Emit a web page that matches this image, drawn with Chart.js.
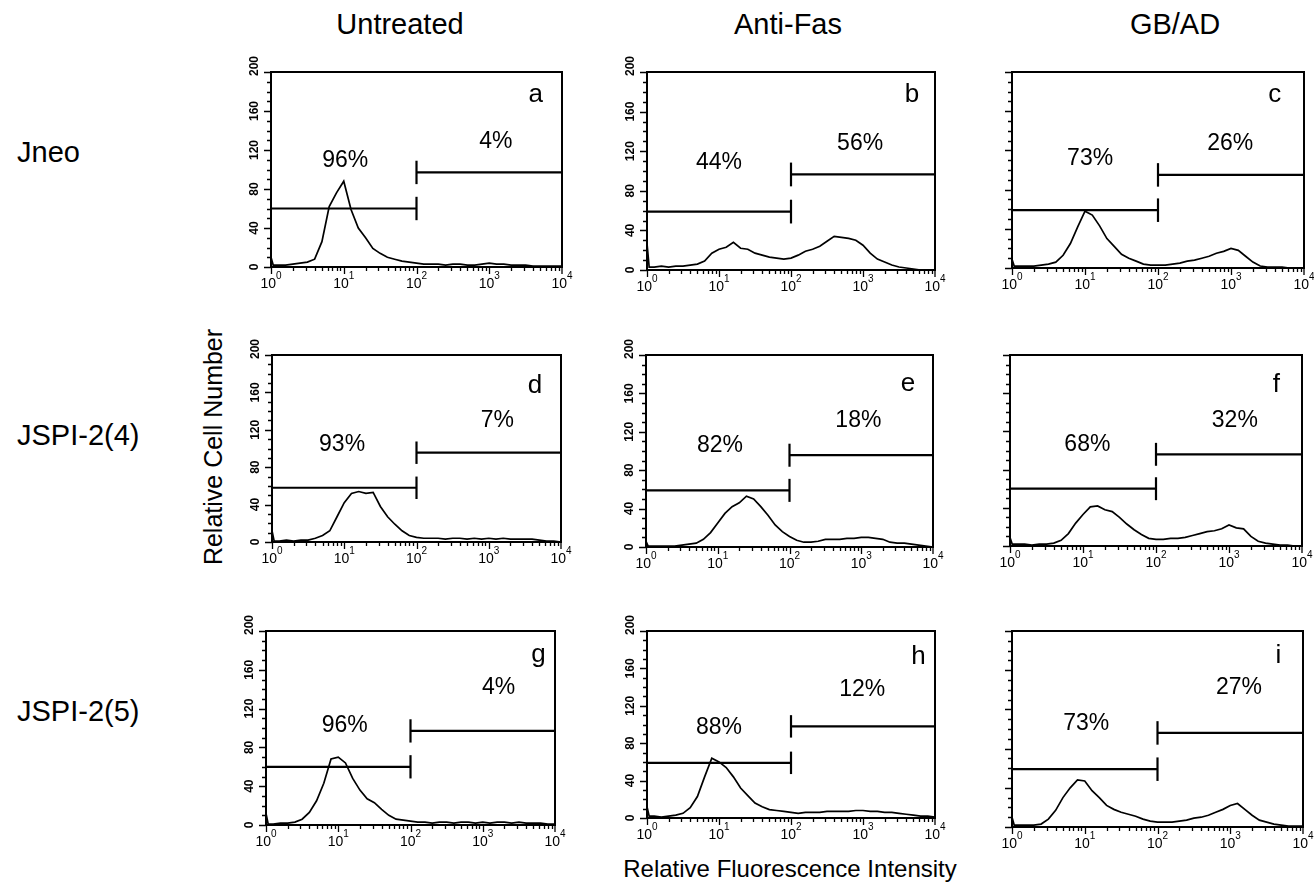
<!DOCTYPE html>
<html>
<head>
<meta charset="utf-8">
<title>Flow cytometry histograms</title>
<script src="https://cdn.jsdelivr.net/npm/chart.js@4.4.1/dist/chart.umd.min.js"></script>
<style>
    body { margin: 0; background: #fff; width: 1314px; height: 883px; position: relative; overflow: hidden;
           font-family: "Liberation Sans", Arial, sans-serif; color: #000; }
    .lbl { position: absolute; white-space: nowrap; line-height: 1; }
    canvas { position: absolute; }
</style>
</head>
<body>

<div id="labels"></div>

<script>
// -------------------------------------------------------------
// DATA
// -------------------------------------------------------------

const columns = ['Untreated', 'Anti-Fas', 'GB/AD'];
const rows = ['Jneo', 'JSPI-2(4)', 'JSPI-2(5)'];
const panelLetters = ['a', 'b', 'c', 'd', 'e', 'f', 'g', 'h', 'i'];

// fluorescence bins, as log10 of intensity
const binExp = [0.0, 0.03, 0.1, 0.2, 0.3, 0.4, 0.5, 0.6, 0.7, 0.8, 0.9,
                1.0, 1.1, 1.2, 1.3, 1.4, 1.5, 1.6, 1.7, 1.8, 1.9,
                2.0, 2.1, 2.2, 2.3, 2.4, 2.5, 2.6, 2.7, 2.8, 2.9,
                3.0, 3.1, 3.2, 3.3, 3.4, 3.5, 3.6, 3.7, 3.8, 3.9, 4.0];

// relative cell number per bin, one array per panel
const countsA = [10,2,2,2,3,4,5,8,26,62,76, 88,59,40,30,19,14,10,8,6,5, 4,3,3,3,2,3,3,2,2,3, 4,3,3,2,2,2,1,1,1,1, 1];
const countsB = [27,3,3,4,3,4,4,5,6,9,17, 21,23,28,22,21,17,15,13,12,11, 12,15,19,21,24,29,34,33,32,30, 25,17,11,8,5,3,2,1,0,0, 0];
const countsC = [9,2,2,2,2,3,4,6,13,25,42, 58,54,43,30,22,14,10,7,4,3, 3,3,4,5,7,8,10,12,15,17, 20,18,12,6,2,1,1,1,0,0, 0];
const countsD = [12,1,1,2,1,2,2,4,7,12,27, 42,52,54,52,53,38,27,19,12,7, 5,4,4,4,3,4,4,3,4,3, 4,3,4,3,3,3,3,2,1,1, 0];
const countsE = [6,1,1,1,1,1,2,3,4,8,15, 25,35,42,46,53,50,42,33,23,16, 11,7,5,5,6,8,8,8,9,9, 10,10,9,8,5,4,4,3,2,1, 0];
const countsF = [9,2,2,2,1,2,2,3,6,13,24, 33,41,42,38,36,30,23,17,12,8, 7,7,8,8,9,11,13,15,16,18, 22,19,18,10,5,3,2,1,1,0, 0];
const countsG = [12,1,1,2,2,3,6,13,25,43,68, 70,64,48,36,27,23,16,10,6,5, 4,3,3,2,3,3,2,3,3,2, 3,2,3,3,2,3,2,2,2,1, 1];
const countsH = [12,2,2,1,2,3,5,11,23,44,64, 60,54,44,32,24,16,12,9,8,7, 6,5,6,6,6,7,7,7,7,8, 8,7,7,6,6,5,4,3,2,2, 1];
const countsI = [10,2,2,2,2,3,8,17,30,40,48, 47,37,30,22,18,15,13,11,8,6, 5,5,5,6,7,9,10,12,15,18, 22,24,18,12,7,5,3,2,1,1, 1];

// gate markers (cell-number height of each gate bar)
const leftGate = [60, 59, 59, 58, 59, 60, 60, 59, 59];
const rightGate = [97, 96.5, 95, 95.5, 95.6, 96, 97, 98, 96];
const gateSplit = 100;

// percentages inside each gate
const leftPct = ['96%', '44%', '73%', '93%', '82%', '68%', '96%', '88%', '73%'];
const rightPct = ['4%', '56%', '26%', '7%', '18%', '32%', '4%', '12%', '27%'];

// axis ticks
const yTicks = [0, 40, 80, 120, 160, 200];
const xTickExp = [0, 1, 2, 3, 4];

const allCounts = [countsA, countsB, countsC, countsD, countsE, countsF, countsG, countsH, countsI];

// -------------------------------------------------------------
// LAYOUT (pixel boxes of each plot area, label anchors in data units)
// -------------------------------------------------------------

const boxes = [
    [271, 72, 562, 267], [647, 72, 935, 270], [1012, 72, 1304, 268],
    [272, 355, 561, 542], [646, 355, 933, 547], [1010, 355, 1302, 546],
    [266, 631, 555, 825], [647, 631, 935, 818], [1012, 631, 1303, 827]
];
// [xExp, baseline value] for left %, right %, panel letter
const leftPctPos = [[1.02, 103], [1.0, 102.5], [1.07, 105], [0.97, 97.5], [1.03, 99], [1.06, 99.6], [1.09, 96], [1.0, 90], [1.02, 99]];
const rightPctPos = [[3.09, 122], [2.96, 121.7], [2.99, 120], [3.12, 122.5], [2.96, 124.5], [3.08, 124.8], [3.22, 135.5], [2.99, 130], [3.12, 136]];
const letterPos = [[3.64, 169], [3.68, 170], [3.6, 169.5], [3.64, 159], [3.65, 162], [3.65, 161], [3.77, 168], [3.77, 165], [3.66, 167]];

const PAD = { left: 40, top: 28, right: 14, bottom: 32 };
const GATE_TICK = 12;
const FONT = '"Liberation Sans", Arial, sans-serif';

// -------------------------------------------------------------
// PAGE LABELS
// -------------------------------------------------------------

const labelsEl = document.getElementById('labels');

function addLabel(text, x, baseline, size, align, rotate) {
    const d = document.createElement('div');
    d.className = 'lbl';
    d.textContent = text;
    d.style.fontSize = size + 'px';
    d.style.left = x + 'px';
    d.style.top = (baseline - size * 0.8465) + 'px';
    if (align === 'center') d.style.transform = 'translateX(-50%)';
    if (rotate) {
        d.style.top = baseline + 'px';
        d.style.transform = 'translate(-50%, -50%) rotate(-90deg)';
    }
    labelsEl.appendChild(d);
}

const colCenters = [400, 788, 1175];
columns.forEach((c, i) => addLabel(c, colCenters[i], 35, 29, 'center'));
const rowBaselines = [163, 446, 722];
rows.forEach((r, i) => addLabel(r, 17, rowBaselines[i], 29, 'left'));
addLabel('Relative Cell Number', 213, 447, 25, 'center', true);
addLabel('Relative Fluorescence Intensity', 790, 877, 24, 'center');

// -------------------------------------------------------------
// CHART DRAWING
// -------------------------------------------------------------

const axesPlugin = {
    id: 'facsAxes',
    afterDraw(chart, args, opts) {
        const { ctx, chartArea: ca, scales: { x, y } } = chart;
        const i = opts.index;
        ctx.save();
        ctx.strokeStyle = '#000';
        ctx.fillStyle = '#000';

        // frame
        ctx.lineWidth = 2;
        ctx.strokeRect(ca.left, ca.top, ca.right - ca.left, ca.bottom - ca.top);

        // y ticks (minor every 10)
        ctx.lineWidth = 1.3;
        ctx.beginPath();
        for (let v = 0; v <= 200; v += 10) {
            const py = Math.round(y.getPixelForValue(v)) + 0.5;
            const len = v % 40 === 0 ? 7 : 4;
            ctx.moveTo(ca.left - len, py);
            ctx.lineTo(ca.left, py);
        }
        // x ticks (minor 2..9 per decade)
        for (let d = 0; d < 4; d++) {
            for (let m = 1; m <= 9; m++) {
                const px = Math.round(x.getPixelForValue(m * Math.pow(10, d))) + 0.5;
                const len = m === 1 ? 7 : 4;
                ctx.moveTo(px, ca.bottom);
                ctx.lineTo(px, ca.bottom + len);
            }
        }
        const pEnd = x.getPixelForValue(10000);
        ctx.moveTo(pEnd, ca.bottom);
        ctx.lineTo(pEnd, ca.bottom + 7);
        ctx.stroke();

        // y tick labels, rotated (not in the right-hand column)
        if (i % 3 !== 2) {
            ctx.font = 'bold 12px ' + FONT;
            ctx.textAlign = 'center';
            ctx.textBaseline = 'middle';
            yTicks.forEach(v => {
                let py = y.getPixelForValue(v);
                if (v === 200) py -= 6;
                ctx.save();
                ctx.translate(ca.left - 16, py);
                ctx.rotate(-Math.PI / 2);
                ctx.fillText(String(v), 0, 0);
                ctx.restore();
            });
        }

        // x tick labels 10^n
        ctx.textAlign = 'left';
        ctx.textBaseline = 'alphabetic';
        xTickExp.forEach(e => {
            const px = x.getPixelForValue(Math.pow(10, e));
            ctx.font = '14px ' + FONT;
            const wBase = ctx.measureText('10').width;
            ctx.font = '10px ' + FONT;
            const wSup = ctx.measureText(String(e)).width;
            const x0 = px - (wBase + wSup) / 2;
            ctx.font = '14px ' + FONT;
            ctx.fillText('10', x0, ca.bottom + 21);
            ctx.font = '10px ' + FONT;
            ctx.fillText(String(e), x0 + wBase, ca.bottom + 12);
        });

        // gate percentages and panel letter
        ctx.textAlign = 'center';
        ctx.font = '23px ' + FONT;
        ctx.fillText(leftPct[i], x.getPixelForValue(Math.pow(10, leftPctPos[i][0])), y.getPixelForValue(leftPctPos[i][1]));
        ctx.fillText(rightPct[i], x.getPixelForValue(Math.pow(10, rightPctPos[i][0])), y.getPixelForValue(rightPctPos[i][1]));
        ctx.font = '26px ' + FONT;
        ctx.fillText(panelLetters[i], x.getPixelForValue(Math.pow(10, letterPos[i][0])), y.getPixelForValue(letterPos[i][1]));

        ctx.restore();
    }
};

function lineSet(points, width) {
    return {
        data: points,
        showLine: true,
        borderColor: '#000',
        borderWidth: width,
        pointRadius: 0,
        tension: 0
    };
}

function buildPanel(i) {
    const [l, t, r, b] = boxes[i];
    const w = (r - l) + PAD.left + PAD.right;
    const h = (b - t) + PAD.top + PAD.bottom;
    const canvas = document.createElement('canvas');
    canvas.width = w;
    canvas.height = h;
    canvas.style.width = w + 'px';
    canvas.style.height = h + 'px';
    canvas.style.left = (l - PAD.left) + 'px';
    canvas.style.top = (t - PAD.top) + 'px';
    document.body.appendChild(canvas);

    const counts = allCounts[i];
    const hist = binExp.map((e, k) => ({ x: Math.pow(10, e), y: counts[k] }));
    const L = leftGate[i];
    const R = rightGate[i];

    new Chart(canvas.getContext('2d'), {
        type: 'scatter',
        data: {
            datasets: [
                lineSet(hist, 1.7),
                lineSet([{ x: 1, y: L }, { x: gateSplit, y: L }], 2.2),
                lineSet([{ x: gateSplit, y: L - GATE_TICK }, { x: gateSplit, y: L + GATE_TICK }], 2.2),
                lineSet([{ x: gateSplit, y: R }, { x: 10000, y: R }], 2.2),
                lineSet([{ x: gateSplit, y: R - GATE_TICK }, { x: gateSplit, y: R + GATE_TICK }], 2.2)
            ]
        },
        options: {
            responsive: false,
            animation: false,
            events: [],
            layout: { padding: PAD },
            plugins: {
                legend: { display: false },
                tooltip: { enabled: false },
                facsAxes: { index: i }
            },
            scales: {
                x: { type: 'logarithmic', min: 1, max: 10000, display: false },
                y: { type: 'linear', min: 0, max: 200, display: false }
            }
        },
        plugins: [axesPlugin]
    });
}

for (let i = 0; i < 9; i++) buildPanel(i);
</script>
</body>
</html>
